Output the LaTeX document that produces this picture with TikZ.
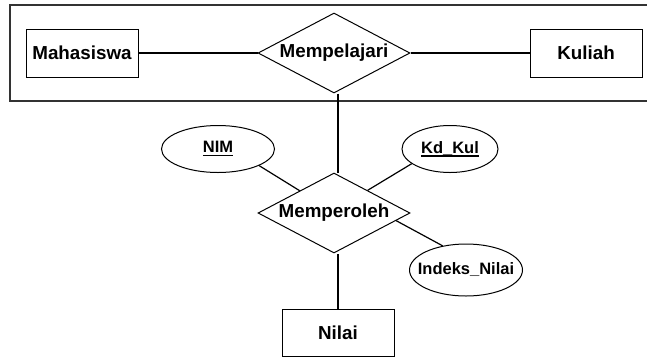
\documentclass[tikz,border=0pt]{standalone}
\usepackage{fontspec}
\setmainfont{Liberation Sans}
\usetikzlibrary{shapes.geometric,calc}
% key attribute: label with a thick rule beneath it
\newcommand\keyattr[1]{\setbox0\hbox{#1}\rlap{\rule[-3.6pt]{\wd0}{1.6pt}}\box0}
\begin{document}
\begin{tikzpicture}[x=1pt,y=-1pt,
  entity/.style={draw=black,line width=1pt,rectangle,inner sep=0pt,
    font=\fontsize{18.8}{21}\selectfont\bfseries},
  relation/.style={draw=black,line width=1pt,diamond,aspect=1.9,inner sep=0pt,
    minimum width=152pt,minimum height=80pt,
    font=\fontsize{18.8}{21}\selectfont\bfseries},
  attribute/.style={draw=black,line width=1pt,ellipse,inner sep=0pt,
    font=\fontsize{16.5}{19}\selectfont\bfseries},
  link/.style={line width=1.8pt},
  attrlink/.style={line width=1.2pt}]
\useasboundingbox (0,0) rectangle (647,357);

% aggregation frame
\draw[line width=1.2pt,draw=black!80] (10,5) rectangle (660,101);

% entities and relationships
\node[entity,minimum width=112pt,minimum height=48pt] (mhs) at (82,53) {Mahasiswa};
\node[relation] (mpl) at (334,53) {Mempelajari};
\node[entity,minimum width=112pt,minimum height=48pt] (kul) at (586,53) {Kuliah};
\node[relation] (mpr) at (334,213) {Memperoleh};
\node[entity,minimum width=112pt,minimum height=47pt] (nil) at (338,332.5) {Nilai};

% attributes
\node[attribute,minimum width=113pt,minimum height=47pt] (nim) at (218,149)
  {\makebox[0pt]{\keyattr{NIM}}};
\node[attribute,minimum width=96pt,minimum height=47pt] (kd) at (450,149)
  {\makebox[0pt]{\keyattr{Kd\_Kul}}};
\node[attribute,minimum width=113pt,minimum height=52pt] (ind) at (466,270)
  {\makebox[0pt]{Indeks\_Nilai}};

% connectors
\draw[link] (mhs) -- (mpl);
\draw[link] (mpl) -- (kul);
\draw[link] (nil.north |- mpl.south) -- (nil.north |- mpr.north);
\draw[link] (nil.north) -- (nil.north |- mpr.south);
\draw[attrlink] (nim.-22) -- (mpr.147);
\draw[attrlink] (kd.201) -- (mpr.34);
\draw[attrlink] (ind.134) -- (mpr.-7.5);
\end{tikzpicture}
\end{document}
